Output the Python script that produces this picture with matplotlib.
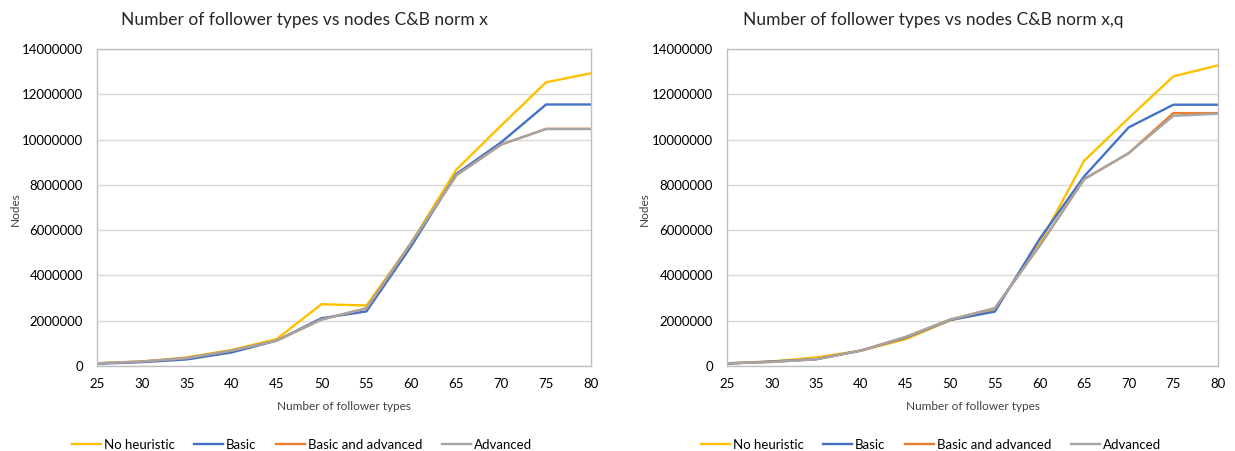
import matplotlib
matplotlib.use('Agg')
import matplotlib.pyplot as plt
from matplotlib.ticker import FuncFormatter

plt.rcParams['font.family'] = ['Lato', 'DejaVu Sans']

follower_types = [25, 30, 35, 40, 45, 50, 55, 60, 65, 70, 75, 80]
series_names = ['No heuristic', 'Basic', 'Basic and advanced', 'Advanced']
colors = ['#FFC000', '#4472C4', '#ED7D31', '#A5A5A5']

# C&B norm x
norm_x_none = [120000, 190000, 380000, 710000, 1190000, 2730000, 2670000,
               5450000, 8670000, 10620000, 12530000, 12930000]
norm_x_basic = [100000, 170000, 290000, 600000, 1120000, 2110000, 2410000,
                5300000, 8480000, 9880000, 11550000, 11550000]
norm_x_both = [120000, 200000, 350000, 680000, 1120000, 2050000, 2550000,
               5450000, 8420000, 9780000, 10470000, 10470000]
norm_x_adv = [120000, 200000, 350000, 680000, 1120000, 2050000, 2550000,
              5450000, 8420000, 9780000, 10470000, 10470000]

# C&B norm x,q
norm_xq_none = [120000, 200000, 380000, 680000, 1180000, 2020000, 2500000,
                5400000, 9060000, 10950000, 12790000, 13280000]
norm_xq_basic = [100000, 200000, 300000, 680000, 1250000, 2030000, 2400000,
                 5600000, 8370000, 10540000, 11540000, 11540000]
norm_xq_both = [120000, 180000, 300000, 680000, 1280000, 2050000, 2550000,
                5300000, 8250000, 9400000, 11170000, 11170000]
norm_xq_adv = [120000, 180000, 300000, 680000, 1280000, 2050000, 2550000,
               5300000, 8250000, 9400000, 11050000, 11140000]

charts = [
    ('Number of follower types vs nodes C&B norm x',
     [norm_x_none, norm_x_basic, norm_x_both, norm_x_adv]),
    ('Number of follower types vs nodes C&B norm x,q',
     [norm_xq_none, norm_xq_basic, norm_xq_both, norm_xq_adv]),
]

W, H = 1235, 451
fig = plt.figure(figsize=(W / 100, H / 100), dpi=100)

# per chart, in pixels: plot left/right, title centre, y-label x, legend centre
layout = [
    dict(x0=97, x1=591, title_x=304, ylab_x=15, leg_x=302),
    dict(x0=727, x1=1218, title_x=933, ylab_x=644, leg_x=931),
]
top_px, bottom_px = 49, 366

text_col = '#404040'
grid_col = '#D9D9D9'


def fx(px):
    return px / W


def fy(px):
    return 1 - px / H


for (title, data), lay in zip(charts, layout):
    x0, x1 = lay['x0'], lay['x1']
    ax = fig.add_axes([fx(x0), fy(bottom_px), (x1 - x0) / W,
                       (bottom_px - top_px) / H])
    lines = []
    for name, vals, c in zip(series_names, data, colors):
        ln, = ax.plot(follower_types, vals, color=c, lw=1.7, label=name)
        lines.append(ln)
    ax.set_xlim(25, 80)
    ax.set_ylim(0, 14000000)
    ax.set_xticks(follower_types)
    ax.set_yticks(range(0, 14000001, 2000000))
    ax.yaxis.set_major_formatter(FuncFormatter(lambda v, p: '%d' % v))
    ax.tick_params(length=0, labelsize=9.5, labelcolor='#000000')
    ax.tick_params(axis='y', pad=10)
    ax.tick_params(axis='x', pad=9)
    ax.grid(axis='y', color=grid_col, lw=1)
    ax.set_axisbelow(True)
    for s in ax.spines.values():
        s.set_color('#BFBFBF')
        s.set_linewidth(1)

    fig.text(fx(lay['title_x']), fy(25), title, fontsize=12.5,
             color='#262626', ha='center', va='baseline')
    fig.text(fx((x0 + x1) / 2), fy(406), 'Number of follower types',
             fontsize=8.5, color=text_col, ha='center', va='center')
    fig.text(fx(lay['ylab_x']), fy(209), 'Nodes', fontsize=8.5,
             color=text_col, ha='center', va='center', rotation=90)
    fig.legend(lines, series_names, loc='center',
               bbox_to_anchor=(fx(lay['leg_x']), fy(445)), ncol=4,
               frameon=False, fontsize=9.5, handlelength=2.2,
               handletextpad=0.2, columnspacing=1.5, borderpad=0,
               borderaxespad=0)

fig.savefig('out.png', dpi=100, facecolor='white')
